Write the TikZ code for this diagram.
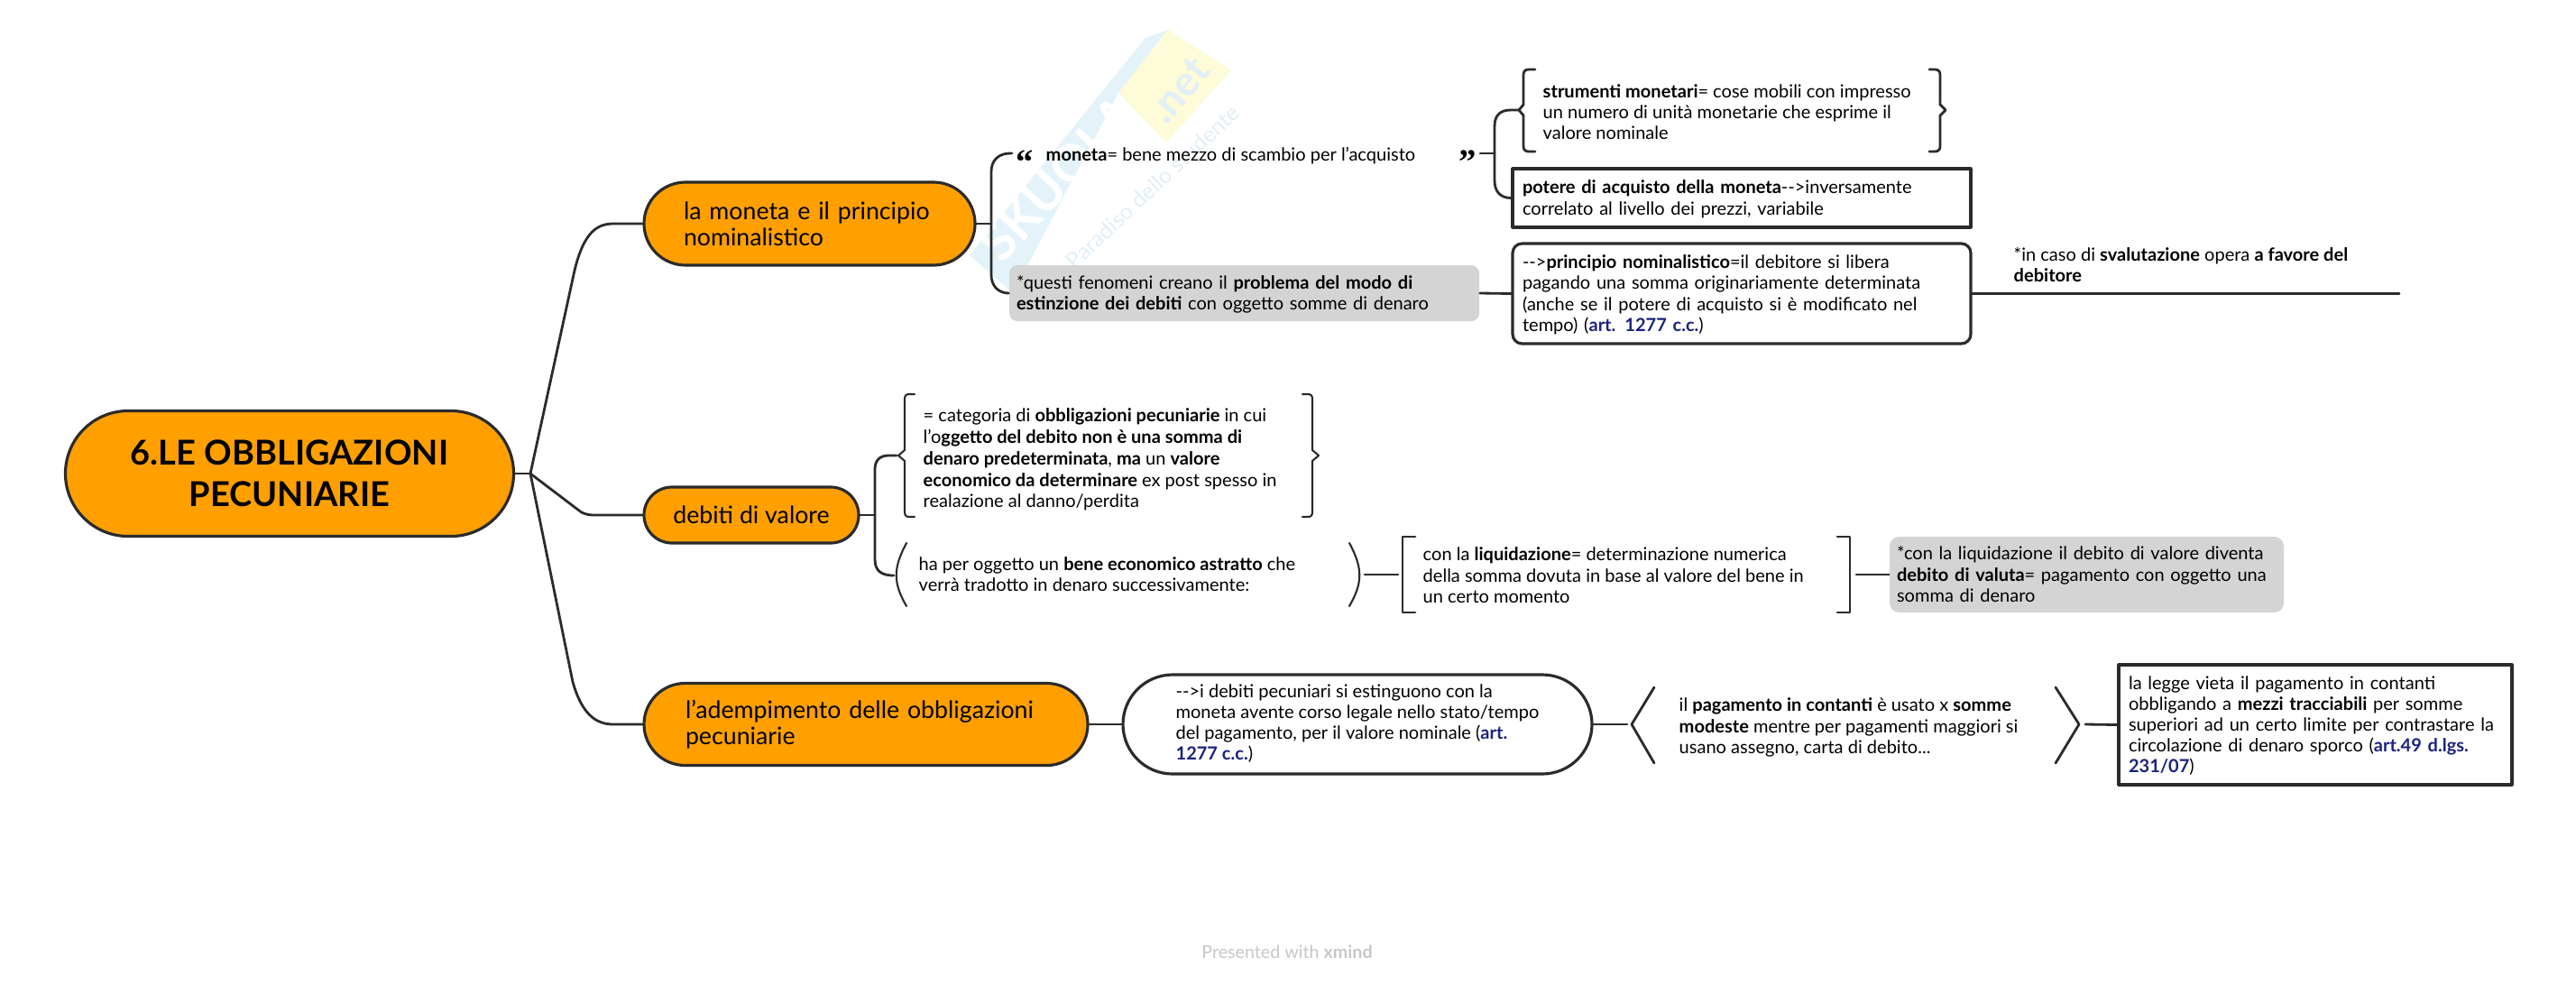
\documentclass[tikz,border=0pt]{standalone}
\usepackage{fontspec}
\usepackage{xcolor}
\setmainfont{Lato}
\newfontfamily\quotefont{Liberation Serif}
\usetikzlibrary{positioning,calc,shapes.misc}
\definecolor{topicOrange}{HTML}{FFA000}
\definecolor{lineDark}{HTML}{2B2B2B}
\definecolor{greyBox}{HTML}{D4D4D4}
\definecolor{artBlue}{HTML}{1A237E}
\definecolor{wmBlue}{HTML}{E4F3FA}
\definecolor{wmYellow}{HTML}{FDFBD8}
\definecolor{wmText}{HTML}{E2EFF6}
\newcommand{\art}[1]{\textcolor{artBlue}{\textbf{#1}}}
\tikzset{
	topic/.style={rounded rectangle,draw=lineDark,fill=topicOrange,line width=0.9pt,align=left,font=\fontsize{7.6}{8.2}\selectfont,inner sep=0pt,text=black},
	body/.style={align=left,inner sep=0pt,font=\fontsize{5.7}{6.6}\selectfont,text=black,
		execute at begin node={\rule{0pt}{5.3pt}},execute at end node={\rule[-1.3pt]{0pt}{0pt}}},
	txt/.style={body,anchor=west},
	boxed/.style={body,draw=lineDark,line width=0.9pt,inner xsep=0.11cm},
	greybox/.style={body,fill=greyBox,inner xsep=0.08cm},
	quotemark/.style={inner sep=0pt,anchor=base west,font=\fontsize{11}{11}\quotefont\bfseries},
	conn/.style={lineDark,line width=0.8pt},
	thin conn/.style={lineDark,line width=0.6pt},
}
\begin{document}
\begin{tikzpicture}[x=1cm,y=-1cm,line cap=round,line join=round]
	\useasboundingbox (0,0) rectangle (28.56,10.91);
	%----- watermark
	\fill[wmBlue] (10.75,2.83) -- (12.70,0.42) -- (12.95,0.33) -- (12.40,1.03) -- (11.23,3.25) -- cycle;
	\fill[wmYellow] (12.40,1.03) -- (12.95,0.33) -- (13.65,0.78) -- (12.93,1.58) -- cycle;
	\node[rotate=47,font=\fontsize{16}{16}\selectfont\bfseries,text=white] (wmLogo) at (11.73,1.97) {SKUOLA};
	\node[rotate=50,font=\fontsize{13}{13}\selectfont\bfseries,text=wmText] (wmNet) at (13.07,1.00) {.net};
	\node[rotate=43,font=\fontsize{7}{7}\selectfont,text=wmText] (wmSub) at (12.78,2.07) {Paradiso dello studente};
	%----- root and main topics
	\node[topic,minimum width=4.97cm,minimum height=1.39cm,align=center,font=\fontsize{10.8}{13}\selectfont\bfseries] (root) at (3.21,5.25) {6.LE OBBLIGAZIONI\\PECUNIARIE};
	\node[topic,minimum width=3.67cm,minimum height=0.92cm,text width=2.79cm] (moneta) at (8.975,2.48) {la moneta e il principio\\nominalistico};
	\node[topic,minimum width=2.38cm,minimum height=0.62cm] (debiti) at (8.33,5.71) {debiti di valore};
	\node[topic,minimum width=4.92cm,minimum height=0.91cm,text width=4.0cm] (ademp) at (9.60,8.03) {l'adempimento delle obbligazioni\\pecuniarie};
	\coordinate (rootJ) at (5.88,5.25);
	\draw[conn] (root.east) -- (rootJ);
	\draw[conn] (rootJ) -- (6.35,3.09) .. controls (6.45,2.6) and (6.6,2.48) .. (6.8,2.48) -- (moneta.west);
	\draw[conn] (rootJ) -- (6.42,5.66) .. controls (6.48,5.71) and (6.55,5.71) .. (6.6,5.71) -- (debiti.west);
	\draw[conn] (rootJ) -- (6.35,7.56) .. controls (6.45,7.91) and (6.6,8.03) .. (6.8,8.03) -- (ademp.west);
	%----- la moneta
	\coordinate (busA) at (10.99,2.48);
	\draw[conn] (moneta.east) -- (busA);
	\node[txt] (monetaTxt) at (11.59,1.71) {\textbf{moneta}= bene mezzo di scambio per l'acquisto};
	\node[quotemark] (quoteL) at (11.26,1.92) {“};
	\node[quotemark] (quoteR) at (16.17,1.92) {”};
	\node[greybox,rounded corners=2.5pt,text width=5.05cm,minimum height=0.62cm] (greyA) at (13.795,3.25) {*questi fenomeni creano il \textbf{problema del modo di}\\\textbf{estinzione dei debiti} con oggetto somme di denaro};
	\coordinate (qA) at (11.22,1.70);
	\draw[conn] (qA) -- (11.2,1.70) .. controls (11.07,1.70) and (10.99,1.78) .. (10.99,1.9) -- (10.99,3.05) .. controls (10.99,3.17) and (11.07,3.25) .. (greyA.west);
	%----- strumenti, potere
	\coordinate (busB) at (16.57,1.70);
	\draw[conn] (16.41,1.70) -- (busB);
	\node[txt] (strumTxt) at (17.10,1.265) {\textbf{strumenti monetari}= cose mobili con impresso\\un numero di unità monetarie che esprime il\\valore nominale};
	\draw[conn] (17.02,0.77) -- (16.95,0.77) .. controls (16.91,0.77) and (16.89,0.79) .. (16.89,0.83) -- (16.89,1.16) -- (16.84,1.22) -- (16.89,1.28) -- (16.89,1.62) .. controls (16.89,1.66) and (16.91,1.68) .. (16.95,1.68) -- (17.02,1.68);
	\draw[conn] (21.39,0.77) -- (21.45,0.77) .. controls (21.49,0.77) and (21.51,0.79) .. (21.51,0.83) -- (21.51,1.16) -- (21.57,1.22) -- (21.51,1.28) -- (21.51,1.62) .. controls (21.51,1.66) and (21.49,1.68) .. (21.45,1.68) -- (21.39,1.68);
	\node[boxed,text width=4.86cm,minimum height=0.65cm] (potere) at (19.31,2.195) {\textbf{potere di acquisto della moneta}-{}->inversamente\\correlato al livello dei prezzi, variabile};
	\draw[conn] (16.84,1.22) -- (16.75,1.22) .. controls (16.63,1.22) and (16.57,1.28) .. (16.57,1.4) -- (16.57,2.0) .. controls (16.57,2.12) and (16.63,2.195) .. (potere.west);
	%----- principio
	\node[boxed,rounded corners=3pt,text width=4.86cm,minimum height=1.11cm] (princ) at (19.31,3.255) {-{}->\textbf{principio nominalistico}=il debitore si libera\\pagando una somma originariamente determinata\\(anche se il potere di acquisto si è modificato nel\\tempo) (\art{art. 1277 c.c.})};
	\draw[conn] (greyA.east) -- (princ.west);
	\node[txt] (svalTxt) at (22.32,2.96) {*in caso di \textbf{svalutazione} opera \textbf{a favore del}\\\textbf{debitore}};
	\coordinate (svalEnd) at (26.60,3.255);
	\draw[conn] (princ.east) -- (svalEnd);
	%----- debiti di valore
	\coordinate (busC) at (9.70,5.71);
	\draw[conn] (debiti.east) -- (busC);
	\node[txt,font=\fontsize{5.7}{6.8}\selectfont] (categTxt) at (10.23,5.10) {= categoria di \textbf{obbligazioni pecuniarie} in cui\\l'o\textbf{ggetto del debito non è una somma di}\\\textbf{denaro predeterminata}, \textbf{ma} un \textbf{valore}\\\textbf{economico da determinare} ex post spesso in\\realazione al danno/perdita};
	\draw[thin conn] (10.14,4.37) -- (10.08,4.37) .. controls (10.04,4.37) and (10.03,4.39) .. (10.03,4.43) -- (10.03,4.99) -- (9.96,5.05) -- (10.03,5.11) -- (10.03,5.67) .. controls (10.03,5.71) and (10.04,5.73) .. (10.08,5.73) -- (10.14,5.73);
	\draw[thin conn] (14.44,4.37) -- (14.50,4.37) .. controls (14.54,4.37) and (14.55,4.39) .. (14.55,4.43) -- (14.55,4.99) -- (14.62,5.05) -- (14.55,5.11) -- (14.55,5.67) .. controls (14.55,5.71) and (14.54,5.73) .. (14.50,5.73) -- (14.44,5.73);
	\draw[conn] (9.94,5.05) -- (9.85,5.05) .. controls (9.75,5.05) and (9.70,5.11) .. (9.70,5.2) -- (9.70,6.2) .. controls (9.70,6.32) and (9.76,6.38) .. (9.91,6.38);
	\node[txt] (astrTxt) at (10.18,6.39) {ha per oggetto un \textbf{bene economico astratto} che\\verrà tradotto in denaro successivamente:};
	\draw[thin conn] (10.05,6.02) .. controls (9.90,6.3) and (9.90,6.46) .. (10.05,6.72);
	\draw[thin conn] (14.96,6.02) .. controls (15.11,6.3) and (15.11,6.46) .. (14.96,6.72);
	\node[txt] (liqTxt) at (15.77,6.40) {con la \textbf{liquidazione}= determinazione numerica\\della somma dovuta in base al valore del bene in\\un certo momento};
	\draw[conn] (15.13,6.37) -- (15.50,6.37);
	\draw[conn] (15.69,5.95) -- (15.55,5.95) -- (15.55,6.79) -- (15.69,6.79);
	\draw[conn] (20.37,5.95) -- (20.51,5.95) -- (20.51,6.79) -- (20.37,6.79);
	\draw[conn] (20.58,6.37) -- (20.95,6.37);
	\node[greybox,rounded corners=3pt,text width=4.21cm,minimum height=0.84cm] (greyB) at (23.135,6.37) {*con la liquidazione il debito di valore diventa\\\textbf{debito di valuta}= pagamento con oggetto una\\somma di denaro};
	%----- adempimento
	\node[body,rounded rectangle,draw=lineDark,fill=white,line width=0.9pt,minimum width=5.2cm,minimum height=1.1cm] (estPill) at (15.05,8.03) {-{}->i debiti pecuniari si estinguono con la\\moneta avente corso legale nello stato/tempo\\del pagamento, per il valore nominale (\art{art.}\\\art{1277 c.c.})};
	\draw[conn] (ademp.east) -- (estPill.west);
	\coordinate (angLtip) at (18.09,8.03);
	\draw[conn] (estPill.east) -- (18.04,8.03);
	\draw[conn] (18.34,7.62) -- (angLtip) -- (18.34,8.46);
	\node[txt] (contTxt) at (18.61,8.07) {il \textbf{pagamento in contanti} è usato x \textbf{somme}\\\textbf{modeste} mentre per pagamenti maggiori si\\usano assegno, carta di debito...};
	\coordinate (angRtip) at (23.05,8.03);
	\draw[conn] (22.79,7.62) -- (angRtip) -- (22.79,8.46);
	\node[boxed,text width=4.14cm,minimum height=1.33cm] (leggeBox) at (25.67,8.035) {la legge vieta il pagamento in contanti\\obbligando a \textbf{mezzi tracciabili} per somme\\superiori ad un certo limite per contrastare la\\circolazione di denaro sporco (\art{art.49 d.lgs.}\\\art{231/07})};
	\draw[conn] (23.12,8.03) -- (leggeBox.west);
	%----- footer
	\node[inner sep=0pt,font=\fontsize{5.6}{6.6}\selectfont,text=black!22] (footer) at (14.27,10.55) {Presented with \textbf{xmind}};
\end{tikzpicture}
\end{document}
